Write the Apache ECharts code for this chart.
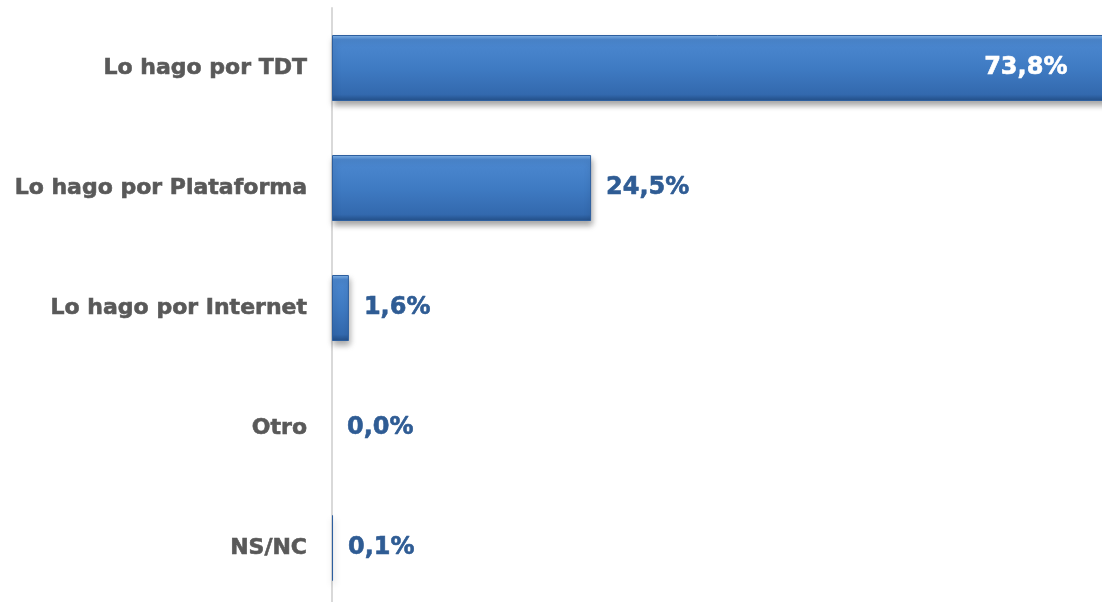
<!DOCTYPE html>
<html>
<head>
<meta charset="utf-8">
<script src="https://cdn.jsdelivr.net/npm/echarts@6/dist/echarts.min.js"></script>
<style>
  html, body { margin: 0; padding: 0; background: #fff; }
  #chart { width: 1102px; height: 602px; }
</style>
</head>
<body>
<div id="chart"></div>
<script>
const categories = ['Lo hago por TDT', 'Lo hago por Plataforma', 'Lo hago por Internet', 'Otro', 'NS/NC'];
const values = [73.8, 24.5, 1.6, 0.0, 0.1];

const chart = echarts.init(document.getElementById('chart'));

const barColor = new echarts.graphic.LinearGradient(0, 0, 0, 1, [
  { offset: 0, color: '#86B6EA' },
  { offset: 0.07, color: '#4C88D0' },
  { offset: 0.5, color: '#3F7BC3' },
  { offset: 0.9, color: '#3369AE' },
  { offset: 1, color: '#234F88' }
]);

const fmt = v => v.toFixed(1).replace('.', ',') + '%';

chart.setOption({
  animation: false,
  // la barra de TDT se sale por la derecha, como en el original
  grid: { left: 332, top: 8, width: 846, height: 600, containLabel: false, outerBoundsMode: 'none' },
  xAxis: {
    type: 'value',
    min: 0,
    max: 80,
    show: false
  },
  yAxis: {
    type: 'category',
    data: categories,
    inverse: true,
    axisTick: { show: false },
    axisLine: { show: true, lineStyle: { color: '#d9d9d9', width: 2 } },
    axisLabel: {
      margin: 25,
      fontFamily: 'DejaVu Sans',
      fontWeight: 'bold',
      fontSize: 22,
      color: '#595959',
      textBorderColor: '#595959',
      textBorderWidth: 0.6
    }
  },
  series: [{
    type: 'bar',
    data: values.map((v, i) => ({
      value: v,
      itemStyle: v === 0 ? { color: 'transparent', borderWidth: 0, shadowBlur: 0, shadowOffsetY: 0, shadowOffsetX: 0 } : undefined,
      label: i === 0
        ? { position: 'insideRight', distance: 45, color: '#ffffff', textBorderColor: '#ffffff' }
        : { position: 'right', distance: 15, color: '#2F5C94', textBorderColor: '#2F5C94' }
    })),
    barWidth: 66,
    itemStyle: {
      color: barColor,
      borderColor: '#2D5F9F',
      borderWidth: 1,
      shadowColor: 'rgba(0,0,0,0.35)',
      shadowBlur: 6,
      shadowOffsetY: 4,
      shadowOffsetX: 1
    },
    label: {
      show: true,
      fontFamily: 'DejaVu Sans',
      fontWeight: 'bold',
      fontSize: 24,
      textBorderWidth: 0.6,
      formatter: p => fmt(p.value)
    }
  }]
});
</script>
</body>
</html>
